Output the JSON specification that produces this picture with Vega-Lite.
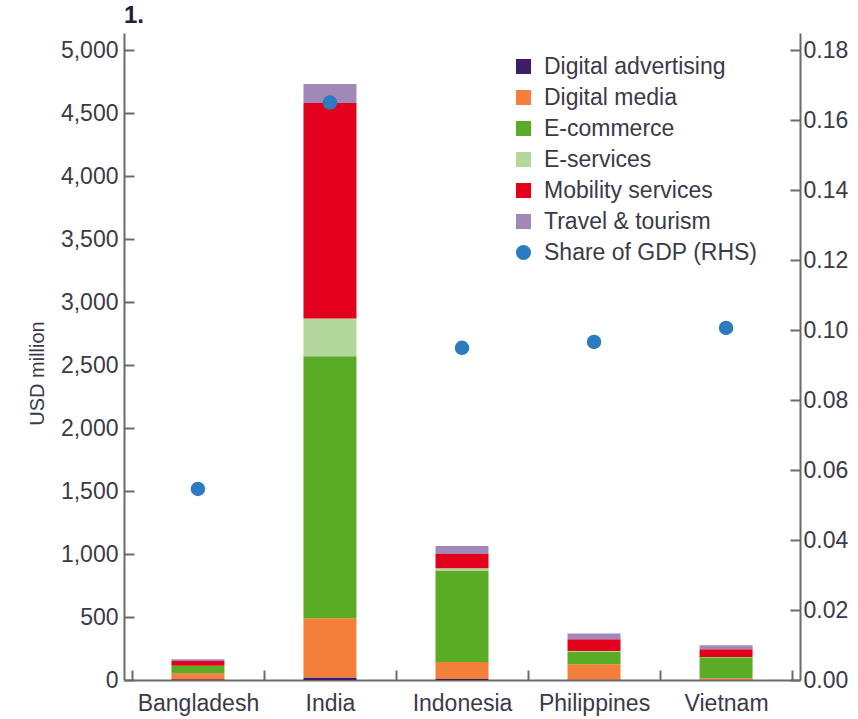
{
  "$schema": "https://vega.github.io/schema/vega-lite/v6.json",
  "autosize": {"type": "none"},
  "padding": {"left": 124, "top": 33, "right": 58, "bottom": 39},
  "width": 676,
  "height": 647,
  "background": "white",
  "title": {"text": "1.", "anchor": "start", "frame": "group", "fontSize": 24, "fontWeight": "bold", "font": "Liberation Sans", "color": "#222233", "offset": 5},
  "datasets": {
    "bars": [
      {"country": "Bangladesh", "category": "Digital advertising", "value": 5},
      {"country": "Bangladesh", "category": "Digital media", "value": 48},
      {"country": "Bangladesh", "category": "E-commerce", "value": 58},
      {"country": "Bangladesh", "category": "E-services", "value": 2},
      {"country": "Bangladesh", "category": "Mobility services", "value": 38},
      {"country": "Bangladesh", "category": "Travel & tourism", "value": 13},
      {"country": "India", "category": "Digital advertising", "value": 20},
      {"country": "India", "category": "Digital media", "value": 470},
      {"country": "India", "category": "E-commerce", "value": 2080},
      {"country": "India", "category": "E-services", "value": 300},
      {"country": "India", "category": "Mobility services", "value": 1710},
      {"country": "India", "category": "Travel & tourism", "value": 150},
      {"country": "Indonesia", "category": "Digital advertising", "value": 8},
      {"country": "Indonesia", "category": "Digital media", "value": 135},
      {"country": "Indonesia", "category": "E-commerce", "value": 722},
      {"country": "Indonesia", "category": "E-services", "value": 21},
      {"country": "Indonesia", "category": "Mobility services", "value": 114},
      {"country": "Indonesia", "category": "Travel & tourism", "value": 63},
      {"country": "Philippines", "category": "Digital advertising", "value": 3},
      {"country": "Philippines", "category": "Digital media", "value": 122},
      {"country": "Philippines", "category": "E-commerce", "value": 97},
      {"country": "Philippines", "category": "E-services", "value": 8},
      {"country": "Philippines", "category": "Mobility services", "value": 93},
      {"country": "Philippines", "category": "Travel & tourism", "value": 47},
      {"country": "Vietnam", "category": "Digital advertising", "value": 3},
      {"country": "Vietnam", "category": "Digital media", "value": 10},
      {"country": "Vietnam", "category": "E-commerce", "value": 167},
      {"country": "Vietnam", "category": "E-services", "value": 3},
      {"country": "Vietnam", "category": "Mobility services", "value": 61},
      {"country": "Vietnam", "category": "Travel & tourism", "value": 31}
    ],
    "gdp": [
      {"country": "Bangladesh", "series": "Share of GDP (RHS)", "share": 0.0546},
      {"country": "India", "series": "Share of GDP (RHS)", "share": 0.165},
      {"country": "Indonesia", "series": "Share of GDP (RHS)", "share": 0.0949},
      {"country": "Philippines", "series": "Share of GDP (RHS)", "share": 0.0966},
      {"country": "Vietnam", "series": "Share of GDP (RHS)", "share": 0.1006}
    ]
  },
  "config": {
    "view": {"stroke": null},
    "axis": {
      "grid": false,
      "domainColor": "#6a6a6a",
      "domainWidth": 2,
      "tickColor": "#6a6a6a",
      "tickWidth": 2,
      "labelFont": "Liberation Sans",
      "labelFontSize": 23,
      "labelColor": "#3a3a48",
      "titleFont": "Liberation Sans",
      "titleFontSize": 20,
      "titleFontWeight": "normal",
      "titleColor": "#3a3a48"
    },
    "legend": {
      "labelFont": "Liberation Sans",
      "labelFontSize": 23,
      "labelColor": "#3a3a48",
      "labelLimit": 400
    }
  },
  "layer": [
    {
      "data": {"name": "bars"},
      "mark": {"type": "bar", "size": 53},
      "encoding": {
        "x": {
          "field": "country",
          "type": "nominal",
          "sort": ["Bangladesh", "India", "Indonesia", "Philippines", "Vietnam"],
          "scale": {"paddingInner": 0, "paddingOuter": 0.06},
          "axis": {"title": null, "labelAngle": 0, "tickBand": "extent", "tickSize": -10, "labelPadding": 22}
        },
        "y": {
          "field": "value",
          "type": "quantitative",
          "stack": "zero",
          "scale": {"domain": [0, 5135], "nice": false},
          "axis": {
            "orient": "left",
            "title": "USD million",
            "values": [0, 500, 1000, 1500, 2000, 2500, 3000, 3500, 4000, 4500, 5000],
            "format": ",.0f",
            "tickSize": -10,
            "labelPadding": 16,
            "titleX": -87,
            "titleY": 340,
            "titleAngle": -90,
            "titleAlign": "center",
            "titleBaseline": "middle"
          }
        },
        "order": {"field": "category", "type": "ordinal", "sort": "ascending"},
        "color": {
          "field": "category",
          "type": "nominal",
          "scale": {
            "domain": ["Digital advertising", "Digital media", "E-commerce", "E-services", "Mobility services", "Travel & tourism", "Share of GDP (RHS)"],
            "range": ["#3e1c68", "#f47f3a", "#5aab25", "#b4d89c", "#e2001c", "#a287b9", "#2b7bc0"]
          },
          "legend": {
            "title": null,
            "orient": "none",
            "legendX": 388,
            "legendY": 22,
            "symbolType": "square",
            "symbolSize": 225,
            "symbolStrokeWidth": 0,
            "symbolOpacity": 1,
            "labelOffset": 9,
            "rowPadding": 7,
            "encode": {
              "symbols": {
                "update": {
                  "shape": {"signal": "datum.value === 'Share of GDP (RHS)' ? 'circle' : 'square'"}
                }
              }
            }
          }
        }
      }
    },
    {
      "data": {"name": "gdp"},
      "mark": {"type": "point", "filled": true, "size": 210, "opacity": 1, "shape": "circle"},
      "encoding": {
        "x": {"field": "country", "type": "nominal", "sort": ["Bangladesh", "India", "Indonesia", "Philippines", "Vietnam"]},
        "y": {
          "field": "share",
          "type": "quantitative",
          "scale": {"domain": [0, 0.18486], "nice": false},
          "axis": {
            "orient": "right",
            "title": null,
            "values": [0, 0.02, 0.04, 0.06, 0.08, 0.1, 0.12, 0.14, 0.16, 0.18],
            "format": ".2f",
            "tickSize": -10,
            "labelPadding": 13
          }
        },
        "color": {"field": "series", "type": "nominal"}
      }
    }
  ],
  "resolve": {"scale": {"y": "independent"}}
}
